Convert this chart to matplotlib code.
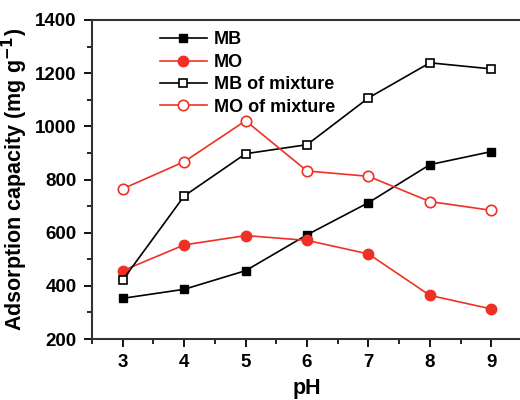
import matplotlib
matplotlib.use('Agg')
import matplotlib.pyplot as plt
from matplotlib.ticker import MultipleLocator

plt.rcParams['font.family'] = ['Liberation Sans', 'DejaVu Sans']
plt.rcParams['font.weight'] = 'bold'
plt.rcParams['mathtext.default'] = 'bf'

pH = [3, 4, 5, 6, 7, 8, 9]
mb = [353, 387, 457, 592, 713, 856, 905]
mo = [457, 554, 589, 571, 520, 364, 313]
mb_mix = [422, 738, 897, 931, 1107, 1239, 1216]
mo_mix = [765, 867, 1021, 832, 812, 717, 684]

red = '#ee3124'

fig = plt.figure(figsize=(5.2, 4.0), dpi=100)
ax = fig.add_axes([0.177, 0.1525, 0.827, 0.7975])

ax.plot(pH, mb, '-s', color='black', lw=1.2, ms=6, label='MB')
ax.plot(pH, mo, '-o', color=red, lw=1.2, ms=7.5, label='MO')
ax.plot(pH, mb_mix, '-s', color='black', mfc='white', mew=1.2, lw=1.2, ms=6, label='MB of mixture')
ax.plot(pH, mo_mix, '-o', color=red, mfc='white', mew=1.2, lw=1.2, ms=7.5, label='MO of mixture')

ax.set_xlim(2.5, 9.5)
ax.set_ylim(200, 1400)
ax.xaxis.set_major_locator(MultipleLocator(1))
ax.xaxis.set_minor_locator(MultipleLocator(0.5))
ax.yaxis.set_major_locator(MultipleLocator(200))
ax.yaxis.set_minor_locator(MultipleLocator(100))
ax.tick_params(which='major', direction='out', length=6, width=1.3, labelsize=13.5, pad=5)
ax.tick_params(which='minor', direction='out', length=3.5, width=1.2)
for s in ax.spines.values():
    s.set_linewidth(1.5)
    s.set_color('#333333')

ax.set_xlabel('pH', fontsize=15.5, fontweight='bold', labelpad=5)
ax.set_ylabel('Adsorption capacity (mg g$^{-1}$)', fontsize=15.5, fontweight='bold', labelpad=4)

ax.legend(loc='upper left', bbox_to_anchor=(0.12, 1.015), frameon=False, fontsize=13,
          handlelength=2.6, handletextpad=0.4, labelspacing=0.3)

fig.savefig('out.png', dpi=100)
